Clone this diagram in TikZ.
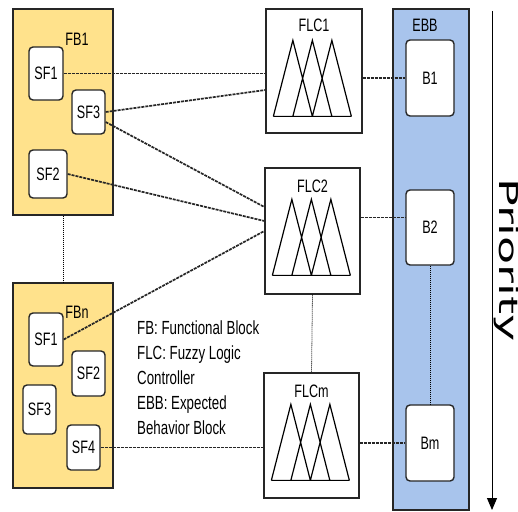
\documentclass[tikz,border=0pt]{standalone}
\usepackage{graphicx}
\usepackage{fontspec}
\setmainfont[FakeStretch=0.7]{Liberation Sans}
\newfontfamily\prio{DejaVu Sans}
\usetikzlibrary{calc,arrows.meta}
\definecolor{fbyellow}{HTML}{FFE28C}
\definecolor{ebbblue}{HTML}{A8C4EC}
\newcommand\fuzzyset[1]{%
  \begin{scope}[shift={(#1.north west)}]
    \draw[tri] (8,108) -- (27.5,32) -- (47,108)
               (27.5,108) -- (47,32) -- (66.5,108)
               (47,108) -- (66.5,32) -- (86,108)
               (8,108) -- (86,108);
  \end{scope}}
\begin{document}
\begin{tikzpicture}[x=1pt,y=-1pt,
  fbbox/.style={draw=black!85,line width=1.4pt,fill=fbyellow,inner sep=0pt},
  ebbbox/.style={draw=black!85,line width=1.4pt,fill=ebbblue,inner sep=0pt},
  flcbox/.style={draw=black!85,line width=1.3pt,fill=white,inner sep=0pt},
  sfbox/.style={draw=black!85,line width=1.4pt,fill=white,rounded corners=4pt,inner sep=0pt,font=\fontsize{18}{18}\selectfont},
  lbl/.style={inner sep=0pt,font=\fontsize{18}{18}\selectfont},
  tri/.style={draw=black,line width=1.2pt,line join=miter},
  conn/.style={draw=black!85,line width=1.7pt,dash pattern=on 3pt off 1pt},
  dotl/.style={draw=black,line width=0.8pt,dash pattern=on 1pt off 1pt}
]
\fill[white] (0,0) rectangle (518,511);
\useasboundingbox (0,0) rectangle (518,511);

% Functional blocks
\node[fbbox,minimum width=100pt,minimum height=206pt] (fbA) at (63,112) {};
\node[fbbox,minimum width=100pt,minimum height=205pt] (fbN) at (63,385.5) {};
\node[lbl] (fbAt) at (77,39) {FB1};
\node[lbl] (fbNt) at (77,312) {FBn};

\node[sfbox,minimum width=34pt,minimum height=53pt] (sfA1) at (46,73.5) {SF1};
\node[sfbox,minimum width=33pt,minimum height=44pt] (sfA3) at (88.5,112) {SF3};
\node[sfbox,minimum width=38pt,minimum height=48pt] (sfA2) at (48,174) {SF2};

\node[sfbox,minimum width=34pt,minimum height=53pt] (sfN1) at (46,339.5) {SF1};
\node[sfbox,minimum width=33pt,minimum height=45pt] (sfN2) at (88.5,373.5) {SF2};
\node[sfbox,minimum width=33pt,minimum height=49pt] (sfN3) at (39.5,409.5) {SF3};
\node[sfbox,minimum width=33pt,minimum height=45pt] (sfN4) at (83.5,447.5) {SF4};

% FLCs
\node[flcbox,minimum width=96pt,minimum height=124pt] (flc1) at (314,71) {};
\node[flcbox,minimum width=95pt,minimum height=126pt] (flc2) at (312.5,231) {};
\node[flcbox,minimum width=95pt,minimum height=125pt] (flcm) at (311.5,435.5) {};
\node[lbl] (flc1t) at (314,25) {FLC1};
\node[lbl] (flc2t) at (312.5,186) {FLC2};
\node[lbl] (flcmt) at (311.5,391) {FLCm};
\fuzzyset{flc1}
\fuzzyset{flc2}
\fuzzyset{flcm}

% EBB
\node[ebbbox,minimum width=76pt,minimum height=501pt] (ebb) at (431,259.5) {};
\node[lbl] (ebbt) at (425,25) {EBB};
\node[sfbox,minimum width=48pt,minimum height=76pt] (b1) at (430,78) {B1};
\node[sfbox,minimum width=48pt,minimum height=75pt] (b2) at (430,227.5) {B2};
\node[sfbox,minimum width=48pt,minimum height=76pt] (bm) at (430,443) {Bm};

% Legend
\node[anchor=north west,align=left,inner sep=0pt,font=\fontsize{19}{25}\selectfont] (legend) at (137,321)
  {FB: Functional Block\\FLC: Fuzzy Logic\\Controller\\EBB: Expected\\Behavior Block};

% Priority
\coordinate (ptop) at (492,11);
\coordinate (pbot) at (492,510);
\draw[line width=1pt,-{Triangle[length=12pt,width=10pt]}] (ptop) -- (pbot);
\node[rotate=-90,anchor=base,inner sep=0pt] (prio) at (499,260)
  {\prio\fontsize{26}{26}\selectfont\scalebox{1.77}[1]{Priority}};

% connectors
\draw[conn] (sfA1.east) -- (sfA1.east -| flc1.west);
\draw[conn] (sfA3.east) -- ($(flc1.west)+(0,19)$);
\draw[conn] ($(sfA3.east)+(0,10)$) -- ($(flc2.west)+(0,-24)$);
\draw[conn] (sfA2.east) -- ($(flc2.west)+(0,-10)$);
\draw[conn] (sfN1.east) -- (flc2.west);
\draw[conn] (sfN4.east) -- (sfN4.east -| flcm.west);
\draw[conn] (b1.west -| flc1.east) -- (b1.west);
\draw[conn] ($(b2.west -| flc2.east)+(0,-10)$) -- ($(b2.west)+(0,-10)$);
\draw[conn] (bm.west -| flcm.east) -- (bm.west);

\draw[dotl] (fbA.south) -- (fbN.north);
\draw[dotl] (flc2.south) -- (flcm.north);
\draw[dotl] (b2.south) -- (bm.north);
\end{tikzpicture}
\end{document}
